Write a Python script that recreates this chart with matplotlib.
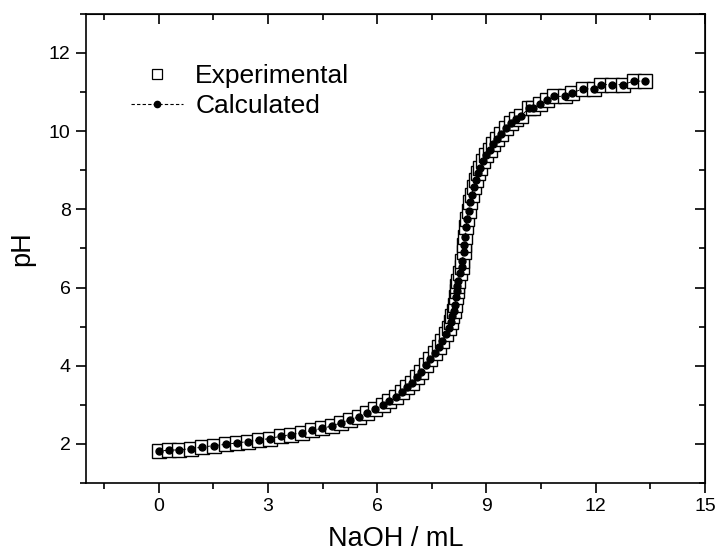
import numpy as np
import matplotlib
matplotlib.use("Agg")
import matplotlib.pyplot as plt
from matplotlib.lines import Line2D
from matplotlib.ticker import MultipleLocator

plt.rcParams['font.family'] = ['Liberation Sans', 'DejaVu Sans']

# titration data (NaOH volume in mL, pH)
naoh = [0.00, 0.28, 0.56, 0.88, 1.20, 1.52, 1.84, 2.16, 2.45, 2.75,
        3.05, 3.36, 3.64, 3.94, 4.22, 4.49, 4.75, 5.01, 5.26, 5.51,
        5.73, 5.95, 6.15, 6.33, 6.51, 6.68, 6.82, 6.96, 7.09, 7.21,
        7.34, 7.46, 7.58, 7.69, 7.78, 7.88, 7.96, 8.02, 8.06, 8.11,
        8.14, 8.16, 8.18, 8.20, 8.23, 8.27, 8.32, 8.34, 8.37, 8.38,
        8.42, 8.44, 8.47, 8.51, 8.55, 8.59, 8.65, 8.71, 8.77, 8.83,
        8.90, 8.99, 9.09, 9.18, 9.29, 9.40, 9.54, 9.67, 9.81, 9.95,
        10.16, 10.27, 10.47, 10.67, 10.85, 11.15, 11.35, 11.65, 11.95, 12.15,
        12.45, 12.75, 13.04, 13.34]
ph_exp = [1.82, 1.84, 1.85, 1.88, 1.92, 1.96, 1.99, 2.03, 2.06, 2.10,
          2.14, 2.20, 2.24, 2.29, 2.35, 2.40, 2.46, 2.54, 2.62, 2.70,
          2.79, 2.89, 2.99, 3.09, 3.20, 3.32, 3.45, 3.57, 3.71, 3.85,
          4.02, 4.18, 4.33, 4.49, 4.64, 4.80, 4.96, 5.12, 5.27, 5.41,
          5.56, 5.75, 5.91, 6.05, 6.18, 6.37, 6.52, 6.69, 6.91, 7.08,
          7.29, 7.55, 7.76, 7.97, 8.19, 8.38, 8.57, 8.76, 8.92, 9.07,
          9.23, 9.38, 9.53, 9.66, 9.80, 9.94, 10.09, 10.20, 10.30, 10.39,
          10.58, 10.58, 10.69, 10.79, 10.89, 10.89, 10.98, 11.08, 11.08, 11.19,
          11.19, 11.19, 11.28, 11.28]
ph_calc = list(ph_exp)

fig = plt.figure(figsize=(7.15, 5.54), dpi=100)
ax = fig.add_axes([0.120, 0.128, 0.866, 0.847])

ax.plot(naoh, ph_exp, linestyle='none', marker='s', markersize=9.5,
        markerfacecolor='white', markeredgecolor='black', markeredgewidth=1.0)
ax.plot(naoh, ph_calc, linestyle=(0, (3, 2)), linewidth=0.7, color='black',
        marker='o', markersize=5, markerfacecolor='black', markeredgecolor='black')

ax.set_xlim(-2, 15)
ax.set_ylim(1, 13)
ax.xaxis.set_major_locator(MultipleLocator(3))
ax.xaxis.set_minor_locator(MultipleLocator(1.5))
ax.yaxis.set_major_locator(MultipleLocator(2))
ax.yaxis.set_minor_locator(MultipleLocator(1))

ax.tick_params(which='both', direction='out', top=False, right=False, labelsize=14, width=1.2)
ax.tick_params(which='major', length=7, pad=4)
ax.tick_params(which='minor', length=4.5)

# inward ticks on top and right, no labels
axt = ax.secondary_xaxis('top')
axt.xaxis.set_major_locator(MultipleLocator(3))
axt.xaxis.set_minor_locator(MultipleLocator(1.5))
axt.tick_params(which='both', direction='in', labeltop=False, width=1.2)
axt.tick_params(which='major', length=7)
axt.tick_params(which='minor', length=4.5)
axr = ax.secondary_yaxis('right')
axr.yaxis.set_major_locator(MultipleLocator(2))
axr.yaxis.set_minor_locator(MultipleLocator(1))
axr.tick_params(which='both', direction='in', labelright=False, width=1.2)
axr.tick_params(which='major', length=7)
axr.tick_params(which='minor', length=4.5)

for s in ax.spines.values():
    s.set_linewidth(1.2)

ax.set_xlabel('NaOH / mL', fontsize=19.5, labelpad=8)
ax.set_ylabel('pH', fontsize=19.5, labelpad=10)

handles = [
    Line2D([], [], linestyle='none', marker='s', markersize=6.5,
           markerfacecolor='white', markeredgecolor='black', markeredgewidth=0.9),
    Line2D([], [], linestyle=(0, (3, 2)), linewidth=0.8, color='black',
           marker='o', markersize=4.5, markerfacecolor='black'),
]
ax.legend(handles, ['Experimental', 'Calculated'], loc='upper left',
          bbox_to_anchor=(0.034, 0.944), frameon=False, fontsize=19,
          handlelength=2.0, handletextpad=0.45, labelspacing=0.23)

fig.savefig('out.png', dpi=100)
